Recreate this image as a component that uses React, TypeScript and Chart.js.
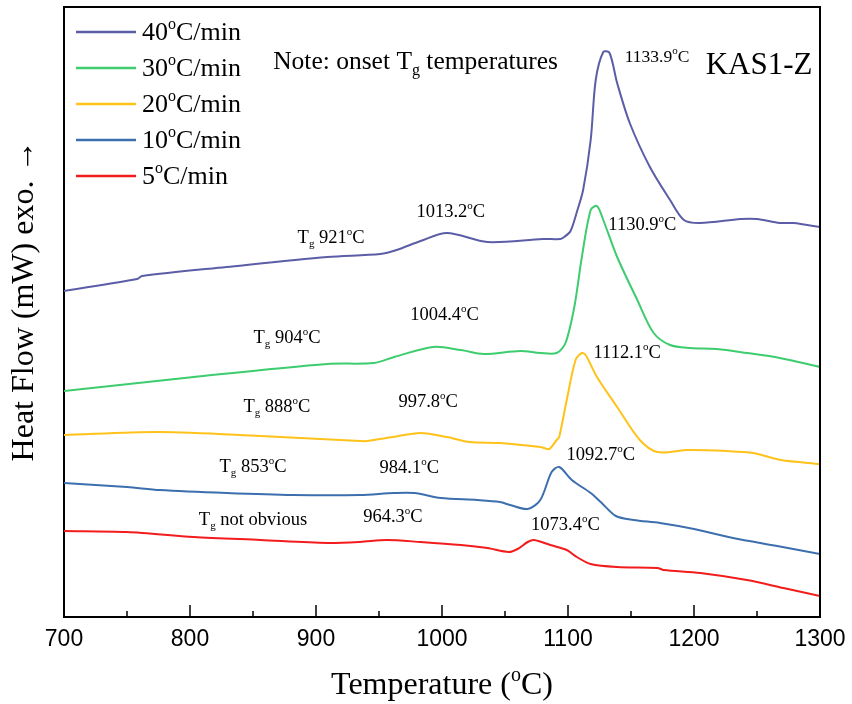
import React, { useEffect, useRef } from "react";
import { Chart, registerables } from "chart.js";

Chart.register(...registerables);

// ---- Data (temperature in °C, heat flow in arbitrary offset units) ----
const T40 = [700, 758, 762, 829, 909, 951, 964, 983, 1004, 1036, 1080, 1094, 1097, 1102, 1107, 1112, 1118, 1122, 1128, 1133, 1139, 1149, 1165, 1181, 1192, 1205, 1237, 1250, 1268, 1279, 1300];
const V40 = [326, 338, 341, 350, 360, 363, 367, 376, 384, 375, 378, 378, 380, 386, 405, 427, 477, 537, 565, 564, 534, 494, 450, 417, 397, 394, 398, 398, 394, 394, 390];

const T30 = [700, 803, 909, 946, 962, 993, 1015, 1033, 1062, 1078, 1091, 1098, 1105, 1111, 1118, 1123, 1128, 1139, 1155, 1168, 1181, 1197, 1218, 1242, 1268, 1300];
const V30 = [226, 240, 253, 254, 260, 270, 267, 263, 266, 264, 264, 274, 310, 360, 407, 411, 397, 360, 317, 284, 272, 269, 268, 264, 259, 250];

const T20 = [700, 776, 856, 935, 941, 961, 983, 1004, 1022, 1046, 1078, 1085, 1091, 1093, 1099, 1106, 1111, 1114, 1123, 1139, 1157, 1171, 1195, 1226, 1247, 1269, 1300];
const V20 = [182, 185, 181, 176, 176, 180, 184, 180, 175, 174, 170, 168, 177, 180, 217, 257, 264, 262, 240, 210, 177, 165, 167, 166, 164, 157, 153];

const T10 = [700, 750, 776, 829, 882, 935, 962, 978, 999, 1028, 1046, 1054, 1068, 1078, 1087, 1093, 1103, 1118, 1126, 1138, 1152, 1173, 1200, 1231, 1266, 1300];
const V10 = [134, 130, 127, 124, 122, 122, 124, 124, 119, 117, 115, 112, 108, 117, 145, 150, 137, 124, 115, 101, 97, 94, 88, 79, 71, 63];

const T5 = [700, 750, 803, 856, 909, 935, 956, 983, 1015, 1036, 1053, 1060, 1068, 1073, 1086, 1099, 1107, 1118, 1139, 1171, 1176, 1205, 1242, 1271, 1300];
const V5 = [86, 85, 80, 77, 74, 75, 77, 75, 72, 69, 65, 68, 75, 77, 72, 67, 60, 53, 50, 49, 47, 44, 37, 29, 21];

const SERIES_LABELS = ["40^oC/min", "30^oC/min", "20^oC/min", "10^oC/min", "5^oC/min"];
const SERIES_COLORS = ["#5b5ea6", "#3dcc6e", "#ffc21a", "#3d6fae", "#f21c1c"];

const X_TICKS = [700, 800, 900, 1000, 1100, 1200, 1300];

// annotation texts: ^ = superscript next char, _ = subscript next char
const NOTE_TEXTS = [
  "Note: onset T_g temperatures",
  "KAS1-Z",
  "1133.9^oC",
  "1013.2^oC",
  "T_g 921^oC",
  "1130.9^oC",
  "1004.4^oC",
  "T_g 904^oC",
  "1112.1^oC",
  "T_g 888^oC",
  "997.8^oC",
  "T_g 853^oC",
  "984.1^oC",
  "1092.7^oC",
  "T_g not obvious",
  "964.3^oC",
  "1073.4^oC",
];
// anchor in data coordinates
const NOTE_X = [866, 1294, 1145, 1007, 912, 1159, 1002, 877, 1147, 869, 989, 850, 974, 1126, 850, 961, 1098];
const NOTE_Y = [555, 551, 560, 405, 379, 392, 302, 279, 264, 210, 215, 150, 149, 162, 97, 100, 92];

const SERIF = '"Liberation Serif", "Times New Roman", serif';

function parseRich(s: string) {
  const segs: { t: string; k: number }[] = [];
  let i = 0;
  while (i < s.length) {
    const c = s[i];
    if ((c === "^" || c === "_") && i + 1 < s.length) {
      segs.push({ t: s[i + 1], k: c === "^" ? 1 : 2 });
      i += 2;
    } else {
      const last = segs[segs.length - 1];
      if (last && last.k === 0) last.t += c;
      else segs.push({ t: c, k: 0 });
      i++;
    }
  }
  return segs;
}

function drawRich(ctx: CanvasRenderingContext2D, s: string, x: number, y: number, size: number, align: string) {
  const segs = parseRich(s);
  const small = Math.round(size * 0.62);
  let w = 0;
  const widths: number[] = [];
  for (const sg of segs) {
    ctx.font = `${sg.k ? small : size}px ${SERIF}`;
    const m = ctx.measureText(sg.t).width;
    widths.push(m);
    w += m;
  }
  let cx = align === "center" ? x - w / 2 : align === "right" ? x - w : x;
  ctx.textBaseline = "middle";
  ctx.textAlign = "left";
  ctx.fillStyle = "#000";
  segs.forEach((sg, i) => {
    ctx.font = `${sg.k ? small : size}px ${SERIF}`;
    const dy = sg.k === 1 ? -size * 0.33 : sg.k === 2 ? size * 0.33 : 0;
    ctx.fillText(sg.t, cx, y + dy);
    cx += widths[i];
  });
}

const decorPlugin = {
  id: "decor",
  afterDraw(chart: any) {
    const { ctx, chartArea: a, scales } = chart;
    const xs = scales.x;
    const ys = scales.y;
    ctx.save();
    // frame top/right
    ctx.strokeStyle = "#000";
    ctx.lineWidth = 2;
    ctx.beginPath();
    ctx.moveTo(a.left, a.top);
    ctx.lineTo(a.right, a.top);
    ctx.lineTo(a.right, a.bottom);
    ctx.stroke();
    // inward ticks
    ctx.lineWidth = 1.5;
    for (let v = 700; v <= 1300; v += 50) {
      const px = xs.getPixelForValue(v);
      const len = v % 100 === 0 ? 12 : 6;
      ctx.beginPath();
      ctx.moveTo(px, a.bottom);
      ctx.lineTo(px, a.bottom - len);
      ctx.stroke();
    }
    // legend
    SERIES_LABELS.forEach((lab, i) => {
      const yy = 32 + i * 36;
      ctx.strokeStyle = SERIES_COLORS[i];
      ctx.lineWidth = 2.5;
      ctx.beginPath();
      ctx.moveTo(76, yy);
      ctx.lineTo(136, yy);
      ctx.stroke();
      drawRich(ctx, lab, 142, yy + 1, 26, "left");
    });
    // annotations
    NOTE_TEXTS.forEach((t, i) => {
      const px = xs.getPixelForValue(NOTE_X[i]);
      const py = ys.getPixelForValue(NOTE_Y[i]);
      if (i === 0) drawRich(ctx, t, px, py, 25.5, "left");
      else if (i === 1) drawRich(ctx, t, px, py, 31, "right");
      else if (i === 2) drawRich(ctx, t, px, py, 17.5, "left");
      else drawRich(ctx, t, px, py, 18.5, "center");
    });
    // axis titles
    drawRich(ctx, "Temperature (^oC)", (a.left + a.right) / 2, 686, 32, "center");
    ctx.save();
    ctx.translate(25, 301);
    ctx.rotate(-Math.PI / 2);
    drawRich(ctx, "Heat Flow (mW) exo. \u2192", 0, 0, 32, "center");
    ctx.restore();
    ctx.restore();
  },
};

export default function App() {
  const ref = useRef<HTMLCanvasElement | null>(null);
  useEffect(() => {
    if (!ref.current) return;
    const series = [
      [T40, V40],
      [T30, V30],
      [T20, V20],
      [T10, V10],
      [T5, V5],
    ];
    const chart = new Chart(ref.current, {
      type: "line",
      data: {
        datasets: series.map(([ts, vs], i) => ({
          label: SERIES_LABELS[i].replace("^o", "\u00ba"),
          data: ts.map((t, j) => ({ x: t, y: vs[j] })),
          borderColor: SERIES_COLORS[i],
          backgroundColor: SERIES_COLORS[i],
          borderWidth: 2,
          pointRadius: 0,
          tension: 0.3,
          fill: false,
        })),
      },
      options: {
        animation: false,
        responsive: false,
        maintainAspectRatio: false,
        layout: { padding: { top: 7, right: 32, left: 0, bottom: 0 } },
        plugins: { legend: { display: false }, tooltip: { enabled: false } },
        scales: {
          x: {
            type: "linear",
            min: 700,
            max: 1300,
            afterBuildTicks: (s: any) => {
              s.ticks = X_TICKS.map((v) => ({ value: v }));
            },
            afterFit: (s: any) => {
              s.height = 87;
              s.paddingLeft = 0;
              s.paddingRight = 0;
            },
            grid: { display: false, drawTicks: false },
            border: { display: true, color: "#000", width: 2 },
            ticks: {
              padding: 9,
              color: "#000",
              callback: (v: any) => String(v),
              font: { family: '"Liberation Sans Narrow", "Liberation Sans", Arial, sans-serif', size: 23 },
              maxRotation: 0,
            },
          },
          y: {
            type: "linear",
            min: 0,
            max: 610,
            afterFit: (s: any) => {
              s.width = 64;
              s.paddingTop = 0;
              s.paddingBottom = 0;
            },
            grid: { display: false, drawTicks: false },
            border: { display: true, color: "#000", width: 2 },
            ticks: { display: false },
          },
        },
      },
      plugins: [decorPlugin],
    });
    return () => chart.destroy();
  }, []);
  return (
    <div style={{ position: "absolute", left: 0, top: 0, width: 852, height: 704, background: "#fff" }}>
      <canvas ref={ref} width={852} height={704} style={{ width: 852, height: 704 }} />
    </div>
  );
}
